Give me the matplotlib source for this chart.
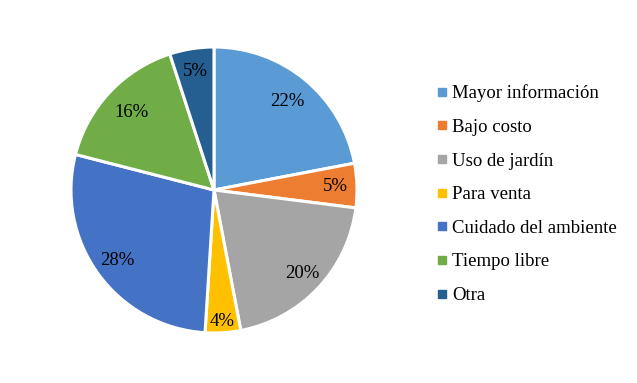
import numpy as np
import matplotlib.pyplot as plt
from matplotlib.lines import Line2D

plt.rcParams['font.family'] = ['Liberation Serif', 'DejaVu Serif']

labels = ["Mayor información", "Bajo costo", "Uso de jardín", "Para venta",
          "Cuidado del ambiente", "Tiempo libre", "Otra"]
values = [22, 5, 20, 4, 28, 16, 5]
colors = ["#5B9BD5", "#ED7D31", "#A5A5A5", "#FFC000", "#4472C4", "#70AD47", "#255E91"]
label_dist = [0.80, 0.85, 0.85, 0.92, 0.84, 0.79, 0.84]

W, H = 637, 383
fig = plt.figure(figsize=(W / 100, H / 100), dpi=100)
cx, cy, r = 214, 190, 143
ax = fig.add_axes([(cx - r) / W, (H - cy - r) / H, 2 * r / W, 2 * r / H])

wedges, _ = ax.pie(values, colors=colors, startangle=90, counterclock=False,
                   radius=1, wedgeprops=dict(edgecolor="white", linewidth=2.2))
for w, v, d in zip(wedges, values, label_dist):
    ang = np.deg2rad((w.theta1 + w.theta2) / 2)
    ax.text(d * np.cos(ang), d * np.sin(ang), f"{v}%", ha="center", va="center",
            fontsize=13.5, color="black")
ax.set_xlim(-1, 1)
ax.set_ylim(-1, 1)
ax.set_aspect("equal")

handles = [Line2D([], [], marker="s", linestyle="none", markersize=5.5,
                  markerfacecolor=c, markeredgecolor=c) for c in colors]
fig.legend(handles, labels, loc="upper left", bbox_to_anchor=(429 / W, 1 - 77 / H),
           frameon=False, fontsize=13.5, handlelength=0.6, handletextpad=0.25,
           labelspacing=0.88, borderaxespad=0)

fig.savefig("out.png", dpi=100)
